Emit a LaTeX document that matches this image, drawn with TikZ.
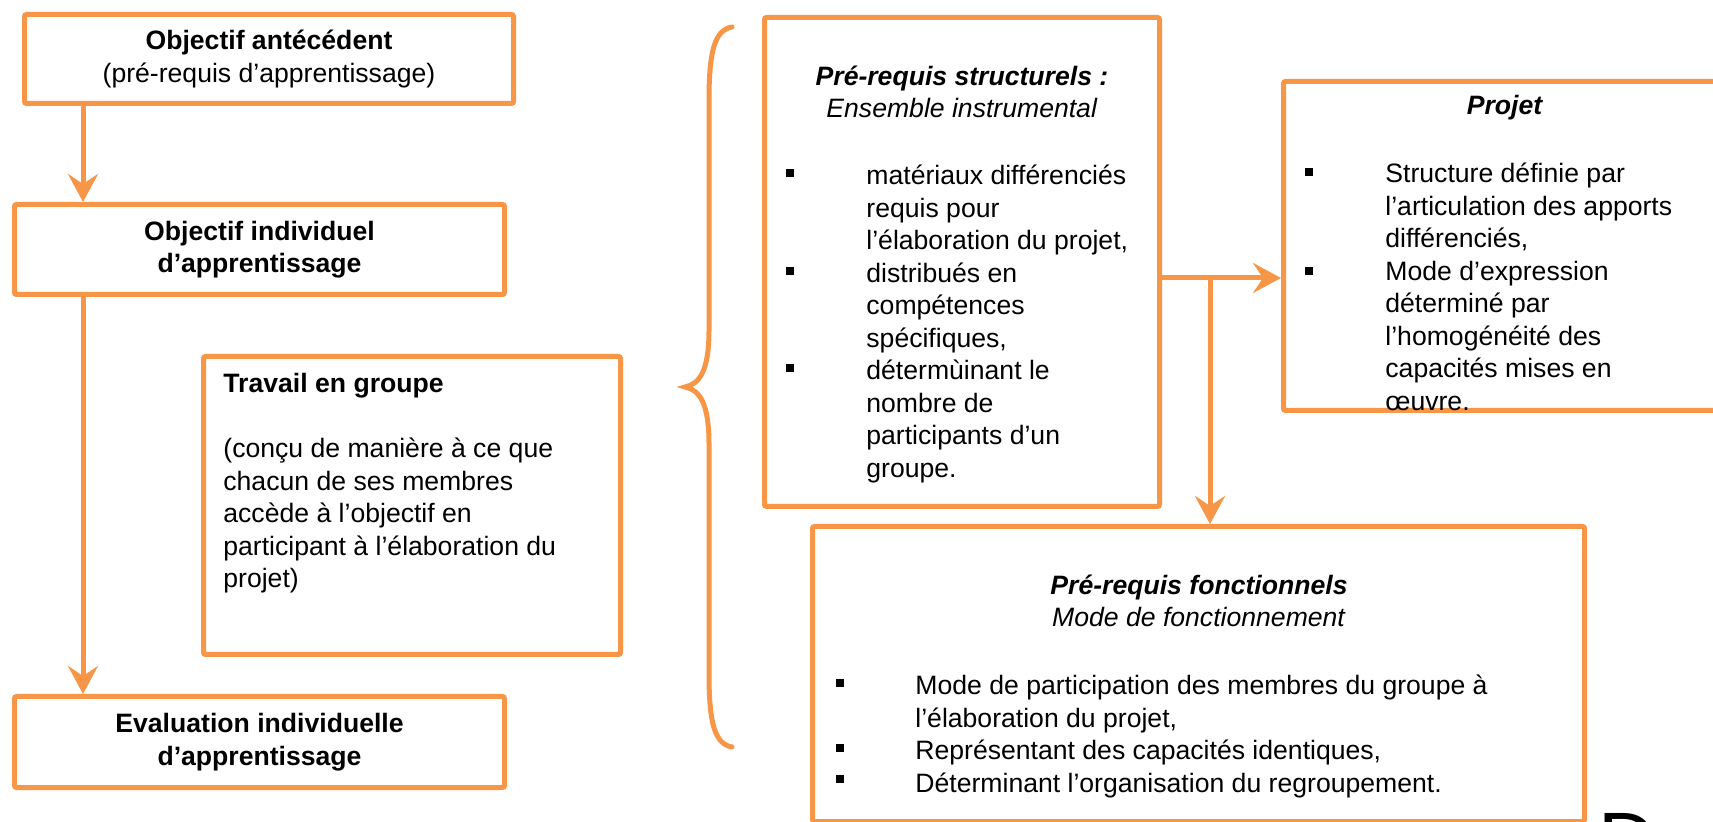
\documentclass[tikz,border=0pt]{standalone}
\usepackage{fontspec}
\setmainfont{Liberation Sans}
\usetikzlibrary{arrows.meta}
\definecolor{cadre}{HTML}{F79646}
\newcommand{\corps}{\fontsize{13.3}{16.25}\selectfont}
\tikzset{
  boite/.style={draw=cadre, line width=2.5pt, rounded corners=1pt, inner sep=0pt, align=center, font=\corps},
  fleche/.style={draw=cadre, line width=2.5pt, -{Stealth[length=14pt, width=15pt, inset=5pt]}},
  accolade/.style={draw=cadre, line width=2.5pt, line cap=round},
  liste/.style={anchor=north west, inner sep=0pt, align=left, font=\corps},
  titre/.style={inner sep=0pt, align=center, font=\corps},
  puce/.style={fill=black},
}
\begin{document}
\begin{tikzpicture}[x=0.5pt, y=-0.5pt]
  \useasboundingbox (0,0) rectangle (1713,822);
  \node[boite, minimum width=244.5pt, minimum height=44.5pt] (ante) at (269,59) {\textbf{Objectif antécédent}\\(pré-requis d’apprentissage)};
  \node[boite, minimum width=245pt, minimum height=45pt] (indiv) at (259.5,249.5) {\textbf{Objectif individuel}\\\textbf{d’apprentissage}};
  \node[boite, minimum width=208.5pt, minimum height=149pt] (travail) at (412,505.5) {};
  \node[liste] (travailtxt) at (223,373) {\textbf{Travail en groupe}\\[16.25pt](conçu de manière à ce que\\chacun de ses membres\\accède à l’objectif en\\participant à l’élaboration du\\projet)};
  \node[boite, minimum width=245pt, minimum height=45.5pt] (eval) at (259.5,742) {\textbf{Evaluation individuelle}\\\textbf{d’apprentissage}};
  \coordinate (axe) at (83,0);
  \draw[fleche] (ante.south -| axe) -- (indiv.north -| axe);
  \draw[fleche] (indiv.south -| axe) -- (eval.north -| axe);

  \draw[accolade] (732,27) .. controls (715,30) and (709,50) .. (709,100) -- (709,330)
    .. controls (709,370) and (700,384) .. (685,387) .. controls (700,390) and (709,404) .. (709,444)
    -- (709,674) .. controls (709,724) and (715,744) .. (732,747);

  \node[boite, minimum width=197.5pt, minimum height=244.5pt] (struct) at (962,262) {};
  \node[titre] (structtitre) at (962,92) {\textbf{\textit{Pré-requis structurels :}}\\\textit{Ensemble instrumental}};
  \node[liste] (structliste) at (866,165) {matériaux différenciés\\requis pour\\l’élaboration du projet,\\distribués en\\compétences\\spécifiques,\\détermùinant le\\nombre de\\participants d’un\\groupe.};
  \foreach \y in {173,271,368} \fill[puce] (786,\y-4) rectangle ++(8,8);

  \node[boite, minimum width=237pt, minimum height=164.5pt] (projet) at (1520.5,246) {};
  \node[titre] (projettitre) at (1505,108) {\textbf{\textit{Projet}}};
  \node[liste] (projetliste) at (1385,163) {Structure définie par\\l’articulation des apports\\différenciés,\\Mode d’expression\\déterminé par\\l’homogénéité des\\capacités mises en\\œuvre.};
  \foreach \y in {172,271} \fill[puce] (1305,\y-4) rectangle ++(8,8);

  \node[boite, minimum width=386pt, minimum height=147.5pt] (fonct) at (1198.5,674) {};
  \node[titre] (fonctitre) at (1199,601) {\textbf{\textit{Pré-requis fonctionnels}}\\\textit{Mode de fonctionnement}};
  \node[liste] (fonctliste) at (915,675) {Mode de participation des membres du groupe à\\l’élaboration du projet,\\Représentant des capacités identiques,\\Déterminant l’organisation du regroupement.};
  \foreach \y in {683,748,779} \fill[puce] (836,\y-4) rectangle ++(8,8);

  \coordinate (embr) at (1210,278);
  \draw[fleche] (struct.east |- embr) -- (projet.west |- embr);
  \draw[fleche] (embr) -- (fonct.north -| embr);

  \node[anchor=north west, inner sep=0pt, font=\fontsize{40}{48}\selectfont] (lettre) at (1598,813) {D};
\end{tikzpicture}
\end{document}
